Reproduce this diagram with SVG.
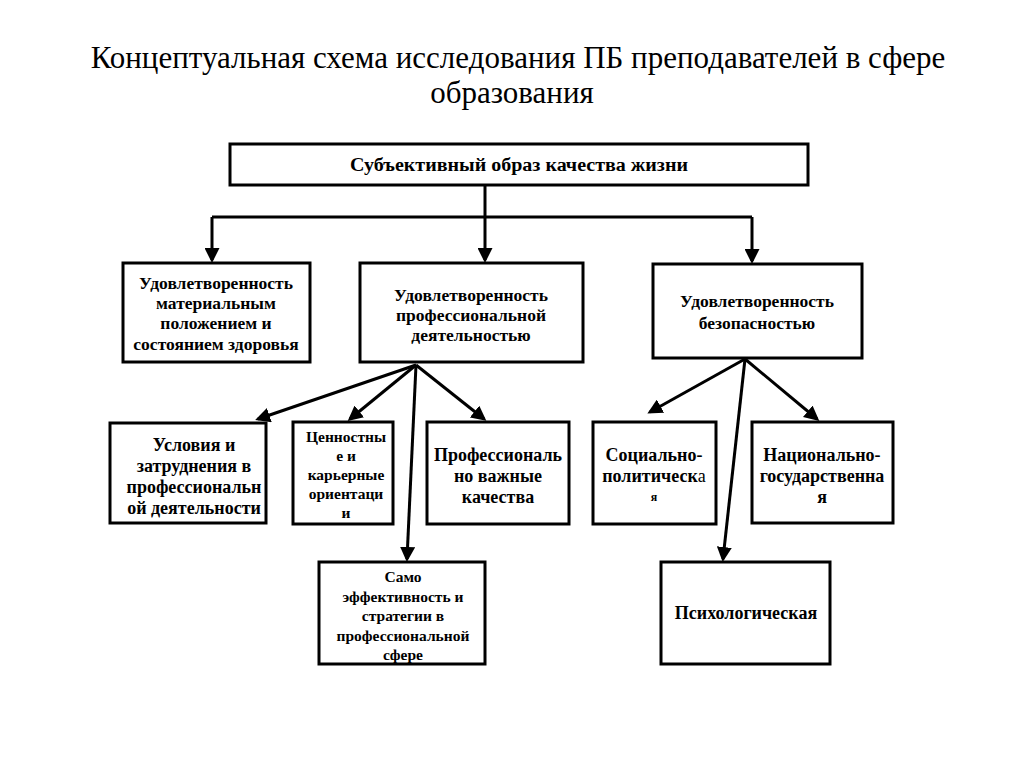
<svg xmlns="http://www.w3.org/2000/svg" width="1024" height="767" viewBox="0 0 1024 767">
<style>
.box{fill:#fff;stroke:#000;stroke-width:3}
.t{text-anchor:middle;fill:#000;font-family:'Liberation Serif','Times New Roman',serif;font-weight:bold}
.title{font-family:'Liberation Serif','Times New Roman',serif;font-size:31px;text-anchor:middle;fill:#000}
.c{fill:none;stroke:#000;stroke-width:3}
.s13{font-size:15.5px}
.s16{font-size:18px}
.s17{font-size:17.5px}
</style>
<defs>
<marker id="ah" markerWidth="5" markerHeight="5" refX="4" refY="2.5" orient="auto" markerUnits="strokeWidth">
<path d="M0,0 L5,2.5 L0,5 z" fill="#000"/>
</marker>
</defs>
<rect width="1024" height="767" fill="#fff"/>
<text class="title" x="518" y="68">Концептуальная схема исследования ПБ преподавателей в сфере</text>
<text class="title" x="512" y="103">образования</text>
<g id="connectors">
<polyline class="c" points="485,185 485,217"/>
<polyline class="c" points="212,217 752,217"/>
<line class="c" x1="212" y1="217" x2="212" y2="260" marker-end="url(#ah)"/>
<line class="c" x1="485" y1="217" x2="485" y2="260" marker-end="url(#ah)"/>
<line class="c" x1="752" y1="217" x2="752" y2="261" marker-end="url(#ah)"/>
<line class="c" x1="416" y1="365" x2="258" y2="419" marker-end="url(#ah)"/>
<line class="c" x1="416" y1="365" x2="350" y2="419" marker-end="url(#ah)"/>
<line class="c" x1="416" y1="365" x2="484" y2="419" marker-end="url(#ah)"/>
<line class="c" x1="416" y1="365" x2="407" y2="559" marker-end="url(#ah)"/>
<line class="c" x1="745" y1="359" x2="650" y2="412" marker-end="url(#ah)"/>
<line class="c" x1="745" y1="359" x2="817" y2="419" marker-end="url(#ah)"/>
<line class="c" x1="745" y1="359" x2="723" y2="559" marker-end="url(#ah)"/>
</g>
<g id="n0"><rect class="box" x="230" y="144" width="578" height="41"/>
<text class="t" x="519" y="171" font-size="18" textLength="338" lengthAdjust="spacingAndGlyphs">Субъективный образ качества жизни</text></g>
<g id="n1"><rect class="box" x="123" y="263" width="187" height="99"/>
<text class="t s17" x="216" y="289">Удовлетворенность</text>
<text class="t s17" x="216" y="309">материальным</text>
<text class="t s17" x="216" y="329">положением и</text>
<text class="t s17" x="216" y="350">состоянием здоровья</text></g>
<g id="n2"><rect class="box" x="360" y="263" width="223" height="99"/>
<text class="t s17" x="471" y="301">Удовлетворенность</text>
<text class="t s17" x="471" y="321">профессиональной</text>
<text class="t s17" x="471" y="341">деятельностью</text></g>
<g id="n3"><rect class="box" x="653" y="264" width="209" height="94"/>
<text class="t s17" x="757" y="307">Удовлетворенность</text>
<text class="t s17" x="757" y="329">безопасностью</text></g>
<g id="n4"><rect class="box" x="110" y="423" width="156" height="100"/>
<text class="t s16" x="194" y="451">Условия и</text>
<text class="t s16" x="194" y="472">затруднения в</text>
<text class="t s16" x="194" y="493">профессиональн</text>
<text class="t s16" x="194" y="514">ой деятельности</text></g>
<g id="n5"><rect class="box" x="293" y="422" width="100" height="102"/>
<text class="t s13" x="346" y="442">Ценностны</text>
<text class="t s13" x="346" y="461">е и</text>
<text class="t s13" x="346" y="480">карьерные</text>
<text class="t s13" x="346" y="499">ориентаци</text>
<text class="t s13" x="346" y="518">и</text></g>
<g id="n6"><rect class="box" x="427" y="422" width="142" height="102"/>
<text class="t s16" x="498" y="461">Профессиональ</text>
<text class="t s16" x="498" y="482">но важные</text>
<text class="t s16" x="498" y="503">качества</text></g>
<g id="n7"><rect class="box" x="593" y="422" width="123" height="102"/>
<text class="t s16" x="654" y="461">Социально-</text>
<text class="t s16" x="654" y="482">политическ<tspan font-weight="normal">а</tspan></text>
<text class="t" x="654" y="501" font-size="12" font-weight="normal">я</text></g>
<g id="n8"><rect class="box" x="752" y="422" width="141" height="101"/>
<text class="t s16" x="822" y="461">Национально-</text>
<text class="t s16" x="822" y="482">государственна</text>
<text class="t s16" x="822" y="503">я</text></g>
<g id="n9"><rect class="box" x="319" y="562" width="166" height="102"/>
<text class="t s13" x="403" y="582">Само</text>
<text class="t s13" x="403" y="602">эффективность и</text>
<text class="t s13" x="403" y="621">стратегии в</text>
<text class="t s13" x="403" y="641">профессиональной</text>
<text class="t s13" x="403" y="660">сфере</text></g>
<g id="n10"><rect class="box" x="661" y="562" width="169" height="102"/>
<text class="t s16" x="746" y="619">Психологическая</text></g>
</svg>
